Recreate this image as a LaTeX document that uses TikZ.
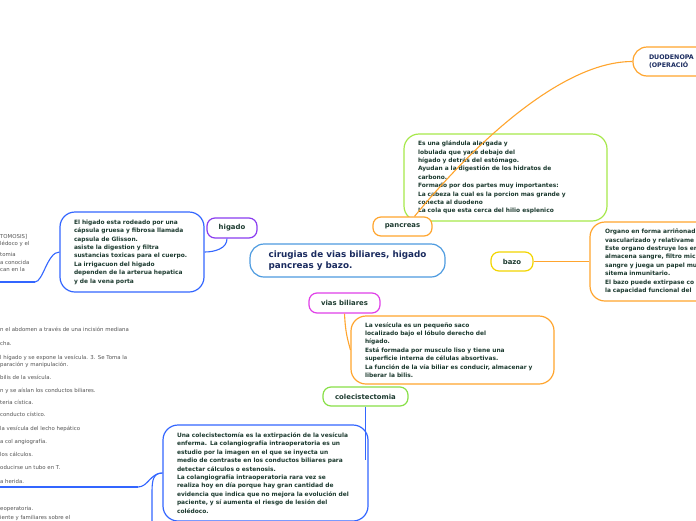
\documentclass[tikz,border=0pt]{standalone}
\usepackage{fontspec}
\setmainfont{DejaVu Sans}
\usetikzlibrary{positioning}
\definecolor{RootLine}{HTML}{4D9BE0}
\definecolor{LiverBlue}{HTML}{3366FF}
\definecolor{LiverViolet}{HTML}{8A3CF0}
\definecolor{PanOrange}{HTML}{FFA52E}
\definecolor{PanGreen}{HTML}{A6E84A}
\definecolor{SpleenGold}{HTML}{F2D500}
\definecolor{BileMagenta}{HTML}{E040E8}
\definecolor{CholeGreen}{HTML}{88E048}
\definecolor{NoteText}{HTML}{1D3B30}
\definecolor{RootText}{HTML}{1A2B5F}
\definecolor{SideGray}{HTML}{555555}
\newcommand\notefont{\fontsize{5.9}{8.4}\selectfont\bfseries}
\newcommand\topicfont{\fontsize{6.9}{8}\selectfont\bfseries}
\newcommand\rootfont{\fontsize{8.8}{10.7}\selectfont\bfseries}
\newcommand\duofont{\fontsize{6.3}{8.5}\selectfont\bfseries}
\newcommand\sidefont{\fontsize{5.4}{7}\selectfont}
\tikzset{topic/.style={draw,rounded corners=8pt,line width=1.2pt,fill=white,
 font=\topicfont,text=NoteText,inner sep=0pt},
 note/.style={draw,rounded corners=15pt,line width=1.2pt,fill=white,
 font=\notefont,text=NoteText,align=left,inner ysep=0pt},
 side/.style={font=\sidefont,text=SideGray,anchor=base west,inner sep=0pt},
 link/.style={line width=1.1pt},rule/.style={line width=2.2pt}}

\begin{document}
\begin{tikzpicture}[x=1pt,y=-1pt]
\useasboundingbox (0,0) rectangle (696,520);
\fill[white] (0,0) rectangle (696,520);
\clip (0,0) rectangle (696,520);
% left side topics, cut off by the page edge
\foreach \y/\txt in {238/TOMOSIS],245/lédoco y el,256/tomia,264/a conocida,271/can en la}
 {\node[side] (up\y) at (0,\y) {\txt};}
\foreach \y/\txt in {331/n el abdomen a través de una incisión mediana,345/cha.,
 359/l hígado y se expone la vesícula. 3. Se Toma la,366/paración y manipulación.,
 379/bilis de la vesícula.,392/n y se aíslan los conductos biliares.,404/teria cística.,
 416/conducto cístico.,430/la vesícula del lecho hepático,443/a col angiografía.,
 456/los cálculos.,469/oducirse un tubo en T.,483/a herida.,510/eoperatoria.,
 519/iente y familiares sobre el}
 {\node[side] (low\y) at (0,\y) {\txt};}
% central topic
\node[draw=RootLine,line width=1.2pt,rounded corners=14pt,fill=white,font=\rootfont,
 text=RootText,align=left,minimum width=195pt,minimum height=33pt,inner sep=0pt]
 (root) at (347.5,260.5) {cirugias de vias biliares, higado\\pancreas y bazo.};
% higado
\node[topic,draw=LiverViolet,minimum width=50pt,minimum height=20pt] (higado) at (232,228) {higado};
\node[note,draw=LiverBlue,text width=116pt,inner xsep=14pt,minimum height=80pt] (higadoinfo)
 at (132,252) {El higado esta rodeado por una\\cápsula gruesa y fibrosa llamada\\capsula de Glisson.\\
 asiste la digestion y filtra\\sustancias toxicas para el cuerpo.\\La irrigacuon del higado\\
 dependen de la arterua hepatica\\y de la vena porta};
% pancreas
\node[note,draw=PanGreen,text width=175pt,inner xsep=14pt,minimum height=87pt] (pancreasinfo)
 at (505.5,177.5) {Es una glándula alargada y\\lobulada que yace debajo del\\hígado y detrás del estómago.\\
 Ayudan a la digestión de los hidratos de\\carbono.\\Formado por dos partes muy importantes:\\
 La cabeza la cual es la porcion mas grande y\\conecta al duodeno\\La cola que esta cerca del hilio esplenico};
\node[topic,draw=PanOrange,minimum width=59pt,minimum height=19pt] (pancreas) at (402.5,226.5) {pancreas};
\node[note,draw=PanOrange,rounded corners=14pt,font=\duofont,text=RootText,text width=60pt,
 inner xsep=16pt,minimum height=29pt] (duodeno) at (679,61.5) {DUODENOPA\\(OPERACIÓ};
% bazo
\node[topic,draw=SpleenGold,minimum width=42pt,minimum height=19pt] (bazo) at (512,261.5) {bazo};
\node[note,draw=PanOrange,text width=100pt,inner xsep=15pt,minimum height=79pt] (bazoinfo)
 at (655,261.5) {Organo en forma arriñonad\\vascularizado y relativame\\Este organo destruye los er\\
 almacena sangre, filtro mic\\sangre y juega un papel mu\\sitema inmunitario.\\
 El bazo puede extirpase co\\la capacidad funcional del};
% vias biliares
\node[topic,draw=BileMagenta,minimum width=71pt,minimum height=20pt] (vias) at (344.5,303) {vias biliares};
\node[note,draw=PanOrange,text width=175pt,inner xsep=14pt,minimum height=68pt] (viasinfo)
 at (452.5,350) {La vesícula es un pequeño saco\\localizado bajo el lóbulo derecho del\\hígado.\\
 Está formada por musculo liso y tiene una\\superficie interna de células absortivas.\\
 La función de la vía biliar es conducir, almacenar y\\liberar la bilis.};
% colecistectomia
\node[topic,draw=CholeGreen,minimum width=85pt,minimum height=19pt] (colecis) at (365.5,396.5) {colecistectomia};
\node[note,draw=LiverBlue,text width=177pt,inner xsep=14pt,minimum height=96pt] (colecisinfo)
 at (265.5,473) {Una colecistectomía es la extirpación de la vesícula\\enferma. La colangiografía intraoperatoria es un\\
 estudio por la imagen en el que se inyecta un\\medio de contraste en los conductos biliares para\\
 detectar cálculos o estenosis.\\La colangiografía intraoperatoria rara vez se\\
 realiza hoy en día porque hay gran cantidad de\\evidencia que indica que no mejora la evolución del\\
 paciente, y sí aumenta el riesgo de lesión del\\colédoco.};
% connectors
\coordinate (liverrule) at (35,282);
\coordinate (liveredge) at (0,282);
\coordinate (cholejoin) at (365.5,460);
\coordinate (cholerule) at (138,487);
\coordinate (choleedge) at (0,487);
\coordinate (choledown) at (152,521);
\draw[link,LiverBlue] ([xshift=-5pt]higado.south) .. controls +(0,10) and +(10,0) .. (higadoinfo.east);
\draw[link,LiverBlue] (higadoinfo.west) .. controls +(-12,0) and +(8,0) .. (liverrule);
\draw[rule,LiverBlue] (liverrule) -- (liveredge);
\draw[link,PanOrange] ([xshift=12pt]pancreas.north) .. controls +(55,-67) and +(-73,0) .. (duodeno.west);
\draw[link,PanOrange] (bazo.east) -- (bazoinfo.west);
\draw[link,PanOrange] (vias.south) .. controls +(1,20) and +(-3,-12) .. (viasinfo.west);
\draw[link,LiverBlue] (colecis.south) -- (cholejoin);
\draw[link,LiverBlue] (colecisinfo.west) .. controls +(-12,0) and +(10,0) .. (cholerule);
\draw[rule,LiverBlue] (cholerule) -- (choleedge);
\draw[link,LiverBlue] (colecisinfo.west) .. controls +(-9,0) and +(0,-12) .. (152,492) -- (choledown);
\end{tikzpicture}
\end{document}
